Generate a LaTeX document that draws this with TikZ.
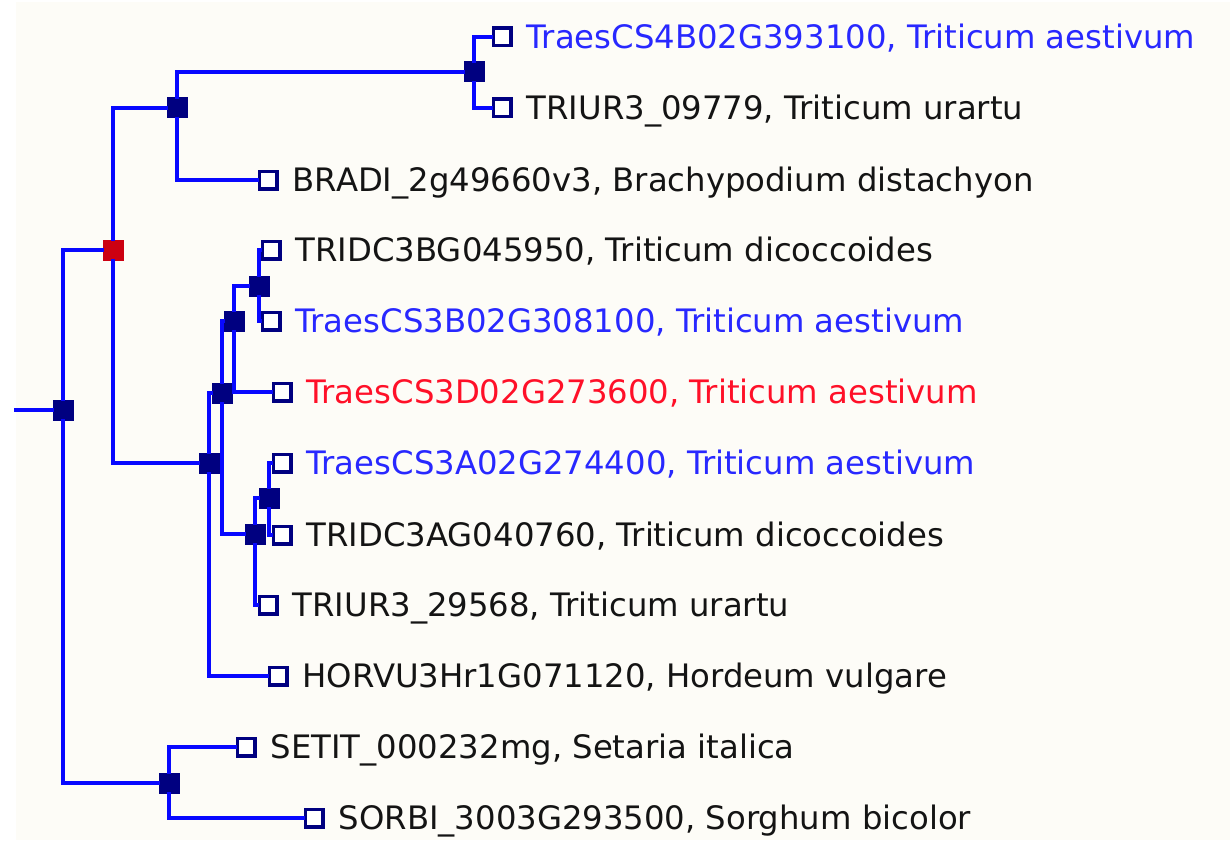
\documentclass[tikz,border=0pt]{standalone}
\usepackage{fontspec}
\setmainfont{DejaVu Sans}
\definecolor{branchblue}{RGB}{8,8,255}
\definecolor{nodenavy}{RGB}{0,0,128}
\definecolor{duplred}{RGB}{204,0,17}
\definecolor{paper}{RGB}{253,252,247}
\definecolor{txtblue}{RGB}{40,40,255}
\definecolor{txtred}{RGB}{255,16,40}
\definecolor{txtblack}{RGB}{20,20,20}
\begin{document}
\begin{tikzpicture}[x=1pt,y=-1pt,
  branch/.style={draw=branchblue,line width=3.5pt,line cap=rect},
  inner/.style={rectangle,fill=nodenavy,minimum size=21pt,inner sep=0pt,outer sep=0pt},
  dupl/.style={inner,fill=duplred},
  leaf/.style={rectangle,draw=nodenavy,fill=white,line width=3.5pt,minimum size=17.5pt,inner sep=0pt},
  lab/.style={anchor=base west,inner sep=0pt,text=txtblack,font=\fontsize{32.3}{38}\selectfont},
  hl/.style={lab,text=txtblue},
  hq/.style={lab,text=txtred}]
\useasboundingbox (0,0) rectangle (1230,840);
\fill[paper] (16,2) rectangle (1230,840);

% leaves
\node[leaf] (L1)  at (502,37)  {};
\node[leaf] (L2)  at (502,108) {};
\node[leaf] (L3)  at (268,180) {};
\node[leaf] (L4)  at (271,250) {};
\node[leaf] (L5)  at (271,321) {};
\node[leaf] (L6)  at (282,392) {};
\node[leaf] (L7)  at (282,463) {};
\node[leaf] (L8)  at (282,535) {};
\node[leaf] (L9)  at (268,605) {};
\node[leaf] (L10) at (278,676) {};
\node[leaf] (L11) at (246,747) {};
\node[leaf] (L12) at (314,818) {};

% internal nodes
\node[inner] (R) at (63,410)  {};
\node[dupl]  (Q) at (113,250) {};
\node[inner] (A) at (177,108) {};
\node[inner] (B) at (474,72)  {};
\node[inner] (C) at (209,463) {};
\node[inner] (D) at (222,393) {};
\node[inner] (E) at (234,321) {};
\node[inner] (F) at (259,286) {};
\node[inner] (G) at (255,534) {};
\node[inner] (H) at (269,498) {};
\node[inner] (I) at (169,783) {};
\coordinate (stub) at (16,410);

% branches
\begin{scope}[branch]
\draw (stub) -- (R);
\draw (Q) -| (R) |- (I);
\draw (A) -| (Q) |- (C);
\draw (B) -| (A) |- (L3);
\draw (L1) -| (B) |- (L2);
\draw (D) -| (C) |- (L10);
\draw (E) -| (D) |- (G);
\draw (F) -| (E) |- (L6);
\draw (L4) -| (F) |- (L5);
\draw (H) -| (G) |- (L9);
\draw (L7) -| (H) |- (L8);
\draw (L11) -| (I) |- (L12);
\end{scope}

% labels
\node[hl]  (T1)  at ([xshift=14pt,yshift=-11.5pt]L1.east)  {TraesCS4B02G393100, Triticum aestivum};
\node[lab] (T2)  at ([xshift=14pt,yshift=-11.5pt]L2.east)  {TRIUR3\_09779, Triticum urartu};
\node[lab] (T3)  at ([xshift=14pt,yshift=-11.5pt]L3.east)  {BRADI\_2g49660v3, Brachypodium distachyon};
\node[lab] (T4)  at ([xshift=14pt,yshift=-11.5pt]L4.east)  {TRIDC3BG045950, Triticum dicoccoides};
\node[hl]  (T5)  at ([xshift=14pt,yshift=-11.5pt]L5.east)  {TraesCS3B02G308100, Triticum aestivum};
\node[hq]  (T6)  at ([xshift=14pt,yshift=-11.5pt]L6.east)  {TraesCS3D02G273600, Triticum aestivum};
\node[hl]  (T7)  at ([xshift=14pt,yshift=-11.5pt]L7.east)  {TraesCS3A02G274400, Triticum aestivum};
\node[lab] (T8)  at ([xshift=14pt,yshift=-11.5pt]L8.east)  {TRIDC3AG040760, Triticum dicoccoides};
\node[lab] (T9)  at ([xshift=14pt,yshift=-11.5pt]L9.east)  {TRIUR3\_29568, Triticum urartu};
\node[lab] (T10) at ([xshift=14pt,yshift=-11.5pt]L10.east) {HORVU3Hr1G071120, Hordeum vulgare};
\node[lab] (T11) at ([xshift=14pt,yshift=-11.5pt]L11.east) {SETIT\_000232mg, Setaria italica};
\node[lab] (T12) at ([xshift=14pt,yshift=-11.5pt]L12.east) {SORBI\_3003G293500, Sorghum bicolor};
\end{tikzpicture}
\end{document}
